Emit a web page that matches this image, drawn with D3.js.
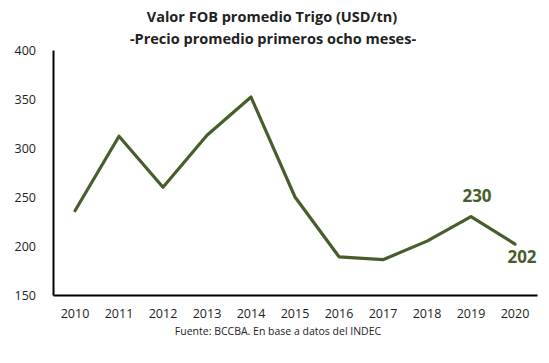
<!DOCTYPE html>
<html>
<head>
<meta charset="utf-8">
<script src="https://cdn.jsdelivr.net/npm/d3@7"></script>
<style>
  body { margin: 0; background: #fff; }
  text { font-family: "Open Sans", "DejaVu Sans", sans-serif; }
</style>
</head>
<body>
<script>
// data
var years = ["2010", "2011", "2012", "2013", "2014", "2015", "2016", "2017", "2018", "2019", "2020"];
var fobValues = [236, 312, 260, 313, 352, 250, 189, 186, 205, 230, 202];
var yTicks = [150, 200, 250, 300, 350, 400];
var labelledYears = ["2019", "2020"];

var width = 549, height = 363;
var margin = { top: 50, right: 12, bottom: 68, left: 53 };
var lineColor = "#485d2c";

var svg = d3.select("body").append("svg")
    .attr("width", width)
    .attr("height", height);

var x = d3.scaleBand()
    .domain(years)
    .range([margin.left, width - margin.right]);

var y = d3.scaleLinear()
    .domain([150, 400])
    .range([height - margin.bottom, margin.top]);

// title
svg.append("text")
    .attr("x", 272).attr("y", 22)
    .attr("text-anchor", "middle")
    .attr("font-size", 14.5).attr("font-weight", "bold")
    .attr("fill", "#222")
    .text("Valor FOB promedio Trigo (USD/tn)");
svg.append("text")
    .attr("x", 273).attr("y", 44)
    .attr("text-anchor", "middle")
    .attr("font-size", 14.5).attr("font-weight", "bold")
    .attr("fill", "#222")
    .text("-Precio promedio primeros ocho meses-");

// y axis
var yAxis = svg.append("g")
    .attr("transform", "translate(" + margin.left + ",0)")
    .call(d3.axisLeft(y).tickValues(yTicks).tickSize(0).tickPadding(17));
yAxis.select(".domain").attr("stroke", "#000").attr("stroke-width", 2);
yAxis.selectAll("text").attr("font-size", 12.5).attr("fill", "#222")
    .attr("font-family", "Open Sans, sans-serif");

// x axis
var xAxis = svg.append("g")
    .attr("transform", "translate(0," + (height - margin.bottom) + ")")
    .call(d3.axisBottom(x).tickSize(0).tickPadding(14));
xAxis.select(".domain").attr("stroke", "#000").attr("stroke-width", 2);
xAxis.selectAll("text").attr("font-size", 12.5).attr("fill", "#222")
    .attr("font-family", "Open Sans, sans-serif");

// line
var line = d3.line()
    .x(function (d, i) { return x(years[i]) + x.bandwidth() / 2; })
    .y(function (d) { return y(d); });

svg.append("path")
    .datum(fobValues)
    .attr("d", line)
    .attr("fill", "none")
    .attr("stroke", lineColor)
    .attr("stroke-width", 3.2)
    .attr("stroke-linejoin", "round")
    .attr("stroke-linecap", "round");

// value labels
var offsets = { "2019": { dx: 6, dy: -15 }, "2020": { dx: 7, dy: 19 } };
labelledYears.forEach(function (yr) {
    var i = years.indexOf(yr);
    svg.append("text")
        .attr("x", x(yr) + x.bandwidth() / 2 + offsets[yr].dx)
        .attr("y", y(fobValues[i]) + offsets[yr].dy)
        .attr("text-anchor", "middle")
        .attr("font-size", 17).attr("font-weight", "bold")
        .attr("fill", lineColor)
        .text(fobValues[i]);
});

// source
svg.append("text")
    .attr("x", 278).attr("y", 335)
    .attr("text-anchor", "middle")
    .attr("font-size", 10.5)
    .attr("fill", "#222")
    .text("Fuente: BCCBA. En base a datos del INDEC");
</script>
</body>
</html>
